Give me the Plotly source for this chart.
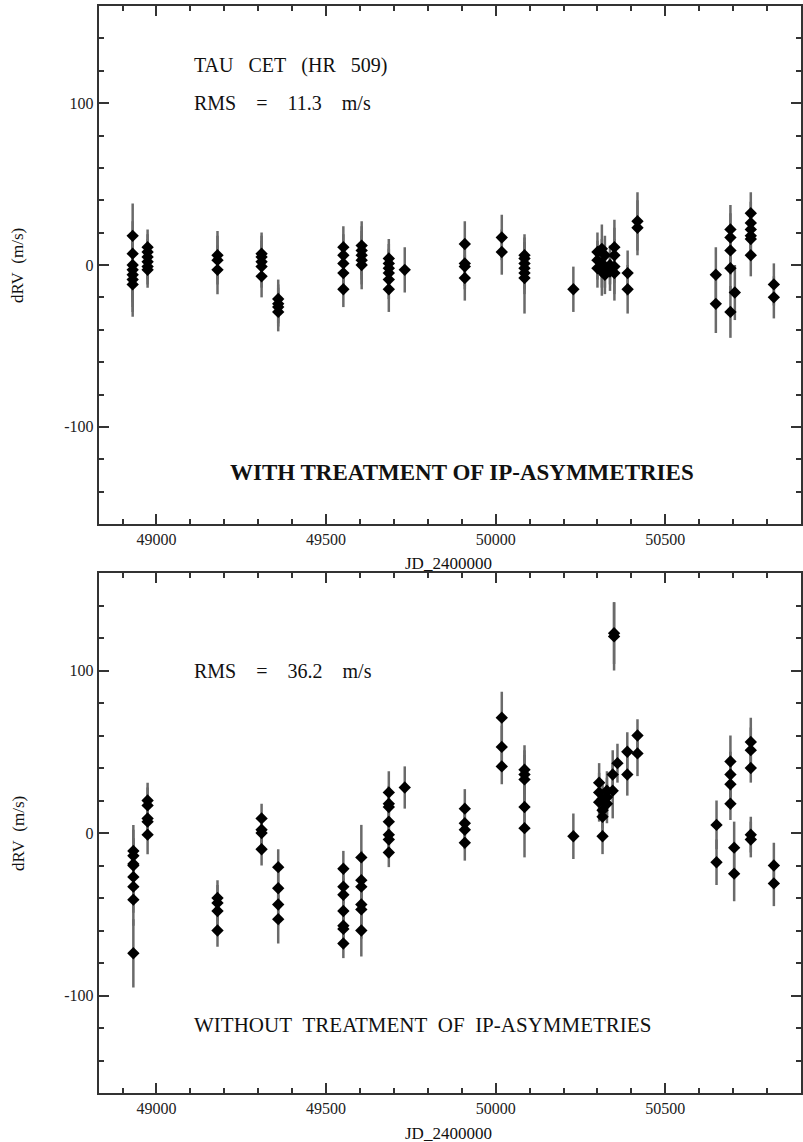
import plotly.graph_objects as go

# ---------------- data ----------------
# Upper panel: with treatment of IP-asymmetries
jd_with = [48930, 48930, 48930, 48930, 48930, 48930, 48930,
           48974, 48974, 48974, 48974, 48974, 48974,
           49180, 49180, 49180,
           49310, 49310, 49310, 49310, 49310,
           49359, 49359, 49359, 49359,
           49551, 49551, 49551, 49551, 49551,
           49605, 49605, 49605, 49605, 49605,
           49685, 49685, 49685, 49685, 49685, 49685,
           49732,
           49909, 49909, 49909, 49909,
           50018, 50018,
           50085, 50085, 50085, 50085, 50085, 50085,
           50229,
           50300, 50300, 50300,
           50313, 50313, 50313,
           50322, 50322, 50322,
           50337, 50337,
           50350, 50350, 50350, 50350,
           50389, 50389,
           50418, 50418,
           50649, 50649,
           50692, 50692, 50692, 50692, 50692,
           50705,
           50752, 50752, 50752, 50752, 50752, 50752,
           50820, 50820]
drv_with = [18, 7, 0, -3, -6, -9, -12,
            11, 8, 5, 2, -1, -3,
            6, 3, -3,
            7, 5, 2, -1, -7,
            -21, -24, -26, -29,
            11, 6, 1, -5, -15,
            12, 9, 6, 3, 0,
            4, 1, -2, -5, -9, -15,
            -3,
            13, 1, -1, -8,
            17, 8,
            6, 4, 1, -2, -5, -8,
            -15,
            8, 3, -2,
            10, 1, -4,
            6, -2, -6,
            0, -4,
            11, 6, -1, -5,
            -5, -15,
            27, 23,
            -6, -24,
            22, 17, 9, -2, -29,
            -17,
            32, 26, 22, 18, 16, 6,
            -12, -20]
err_with = [20, 20, 20, 20, 20, 20, 20,
            11, 11, 11, 11, 11, 11,
            15, 15, 15,
            13, 13, 13, 13, 13,
            12, 12, 12, 12,
            13, 13, 13, 13, 11,
            15, 15, 15, 15, 15,
            12, 12, 12, 12, 12, 14,
            14,
            14, 14, 14, 14,
            14, 14,
            13, 13, 13, 13, 13, 22,
            14,
            12, 12, 12,
            15, 15, 15,
            12, 12, 12,
            12, 12,
            17, 17, 17, 17,
            14, 15,
            18, 17,
            17, 18,
            15, 15, 15, 15, 16,
            17,
            13, 13, 13, 13, 13, 13,
            13, 13]

# Lower panel: without treatment of IP-asymmetries
jd_without = [48932, 48932, 48932, 48932, 48932, 48932, 48932, 48932,
              48974, 48974, 48974, 48974, 48974,
              49180, 49180, 49180, 49180,
              49310, 49310, 49310, 49310,
              49359, 49359, 49359, 49359,
              49551, 49551, 49551, 49551, 49551, 49551, 49551,
              49604, 49604, 49604, 49604, 49604, 49604,
              49685, 49685, 49685, 49685, 49685, 49685, 49685,
              49732,
              49909, 49909, 49909, 49909,
              50018, 50018, 50018,
              50085, 50085, 50085, 50085, 50085,
              50229,
              50305, 50305, 50305,
              50315, 50315, 50315, 50315,
              50328, 50328, 50328,
              50349, 50349,
              50345, 50345,
              50359,
              50388, 50388,
              50418, 50418,
              50651, 50651,
              50692, 50692, 50692, 50692,
              50703, 50703,
              50752, 50752, 50752,
              50752, 50752,
              50820, 50820]
drv_without = [-11, -14, -19, -20, -27, -33, -41, -74,
               20, 17, 9, 7, -1,
               -40, -43, -48, -60,
               9, 2, 0, -10,
               -21, -34, -44, -53,
               -22, -33, -38, -48, -57, -59, -68,
               -15, -29, -33, -44, -47, -60,
               25, 18, 16, 7, -1, -4, -12,
               28,
               15, 6, 2, -6,
               71, 53, 41,
               39, 36, 33, 16, 3,
               -2,
               31, 25, 19,
               21, 14, 10, -2,
               26, 22, 18,
               123, 121,
               36, 26,
               43,
               50, 36,
               60, 49,
               5, -18,
               44, 36, 30, 18,
               -9, -25,
               56, 51, 40,
               -1, -4,
               -20, -31]
err_without = [16, 16, 16, 16, 16, 16, 16, 21,
               11, 11, 11, 11, 12,
               11, 11, 11, 10,
               9, 9, 9, 10,
               11, 13, 13, 15,
               11, 10, 10, 10, 10, 10, 9,
               20, 18, 18, 18, 18, 16,
               13, 11, 11, 11, 11, 11, 9,
               13,
               12, 12, 12, 11,
               16, 13, 11,
               15, 15, 15, 15, 18,
               14,
               12, 12, 12,
               11, 11, 11, 11,
               12, 12, 12,
               19, 21,
               15, 17,
               12,
               12, 13,
               10, 14,
               15, 14,
               16, 14, 14, 10,
               16, 17,
               15, 14, 9,
               11, 11,
               14, 14]

x_tick_vals = [49000, 49500, 50000, 50500]
x_tick_text = ["49000", "49500", "50000", "50500"]
y_tick_vals = [100, 0, -100]
y_tick_text = ["100", "0", "-100"]

# ---------------- figure ----------------
W, H = 803, 1142
def px(x):
    return x / W
def py(y):
    return 1 - y / H

AX = "#333333"
ERR = "#6a6a6a"
SERIF = "Liberation Serif"

fig = go.Figure()
fig.add_trace(go.Scatter(
    x=jd_with, y=drv_with, mode="markers", xaxis="x", yaxis="y",
    marker=dict(symbol="diamond", size=9.5, color="black"),
    error_y=dict(type="data", array=err_with, color=ERR, thickness=2.5, width=0),
    showlegend=False, hoverinfo="skip"))
fig.add_trace(go.Scatter(
    x=jd_without, y=drv_without, mode="markers", xaxis="x2", yaxis="y2",
    marker=dict(symbol="diamond", size=9.5, color="black"),
    error_y=dict(type="data", array=err_without, color=ERR, thickness=2.5, width=0),
    showlegend=False, hoverinfo="skip"))

def xax(anchor):
    return dict(
        domain=[px(99), 1.0], anchor=anchor, range=[48830, 50900],
        showline=True, linecolor=AX, linewidth=2, mirror="ticks",
        ticks="inside", ticklen=10, tickwidth=1.5, tickcolor=AX,
        tickmode="array", tickvals=x_tick_vals, ticktext=x_tick_text,
        tickfont=dict(family=SERIF, size=16, color="#222"),
        minor=dict(ticks="inside", ticklen=5, tickwidth=1.5, tickcolor=AX,
                   tickmode="linear", tick0=49000, dtick=100, showgrid=False),
        showgrid=False, zeroline=False, fixedrange=True)

def yax(anchor, d0, d1):
    return dict(
        domain=[d0, d1], anchor=anchor, range=[-160, 160],
        showline=True, linecolor=AX, linewidth=2, mirror="ticks",
        ticks="inside", ticklen=10, tickwidth=1.5, tickcolor=AX,
        tickmode="array", tickvals=y_tick_vals, ticktext=y_tick_text,
        tickfont=dict(family=SERIF, size=16, color="#222"),
        minor=dict(ticks="inside", ticklen=5, tickwidth=1.5, tickcolor=AX,
                   tickmode="linear", tick0=0, dtick=20, showgrid=False),
        showgrid=False, zeroline=False, fixedrange=True)

fig.update_layout(
    width=W, height=H,
    margin=dict(l=0, r=0, t=0, b=0),
    paper_bgcolor="white", plot_bgcolor="white",
    font=dict(family=SERIF),
    xaxis=xax("y"),
    yaxis=yax("x", py(524), py(6)),
    xaxis2=xax("y2"),
    yaxis2=yax("x2", py(1093), py(573)),
)

NB = "\u00a0"
def sp(n):
    return NB * n

ann = []
def add(text, x, y, size, xanchor="left", bold=False, angle=0):
    t = f"<b>{text}</b>" if bold else text
    ann.append(dict(text=t, x=px(x), y=py(y), xref="paper", yref="paper",
                    xanchor=xanchor, yanchor="middle", showarrow=False,
                    textangle=angle,
                    font=dict(family=SERIF, size=size, color="#111")))

add("TAU" + sp(3) + "CET" + sp(3) + "(HR" + sp(3) + "509)", 192, 65, 20)
add("RMS" + sp(4) + "=" + sp(4) + "11.3" + sp(4) + "m/s", 192, 103, 20)
add("WITH TREATMENT OF IP-ASYMMETRIES", 463, 472, 23, xanchor="center", bold=True)
add("JD_2400000", 450, 563, 17, xanchor="center")
add("dRV" + sp(2) + "(m/s)", 18, 265, 17, xanchor="center", angle=-90)

add("RMS" + sp(4) + "=" + sp(4) + "36.2" + sp(4) + "m/s", 192, 671, 20)
add("WITHOUT" + sp(2) + "TREATMENT" + sp(2) + "OF" + sp(2) + "IP-ASYMMETRIES", 192, 1025, 21)
add("JD_2400000", 450, 1133, 17, xanchor="center")
add("dRV" + sp(2) + "(m/s)", 18, 833, 17, xanchor="center", angle=-90)

fig.update_layout(annotations=ann)

fig.write_html("out.html")
